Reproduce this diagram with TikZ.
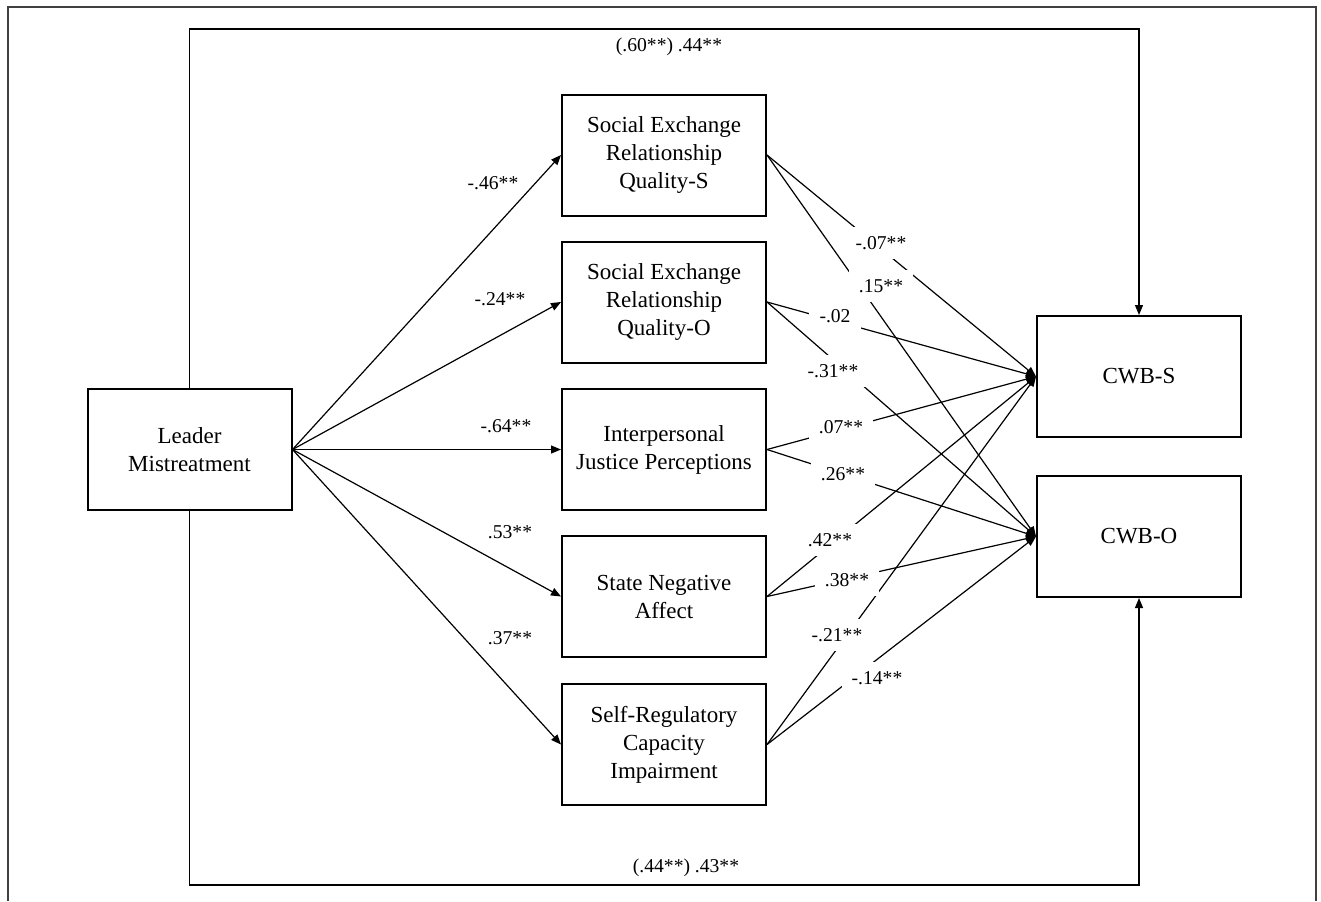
\documentclass[tikz,border=0pt]{standalone}
\usepackage{fontspec}
\setmainfont{Liberation Serif}
\usetikzlibrary{arrows.meta}
\begin{document}
\begin{tikzpicture}[x=0.5pt,y=-0.5pt,
  box/.style={draw, line width=1pt, minimum width=102pt, minimum height=60.5pt,
    inner sep=0pt, align=center, font=\fontsize{11.5}{14}\selectfont},
  tip/.style={-{Triangle[length=5pt,width=4pt]}},
  link/.style={line width=0.6pt, tip},
  coef/.style={font=\fontsize{9.8}{12}\selectfont, inner sep=1pt},
  gapcoef/.style={coef, fill=white, inner xsep=5pt, inner ysep=4.5pt}]
\useasboundingbox (0,0) rectangle (1321,901);

% outer frame
\draw[line width=1.2pt, black!75] (8,901) -- (8,7) -- (1316,7) -- (1316,901);

% variables
\node[box] (lm)   at (189.5,449.5) {Leader\\Mistreatment};
\node[box] (sers) at (664,155)   {Social Exchange\\Relationship\\Quality-S};
\node[box] (sero) at (664,302)   {Social Exchange\\Relationship\\Quality-O};
\node[box] (ijp)  at (664,449.5) {Interpersonal\\Justice Perceptions};
\node[box] (sna)  at (664,596.5) {State Negative\\Affect};
\node[box] (src)  at (664,744.5) {Self-Regulatory\\Capacity\\Impairment};
\node[box] (cwbs) at (1139,376.5) {CWB-S};
\node[box] (cwbo) at (1139,536.5) {CWB-O};

% direct effects around the model
\coordinate (topy) at (0,29);
\coordinate (boty) at (0,885);
\draw[link] (lm.north) -- (lm.north |- topy) -- (cwbs.north |- topy) -- (cwbs.north);
\draw[link] (lm.south) -- (lm.south |- boty) -- (cwbo.south |- boty) -- (cwbo.south);

% leader mistreatment to mediators
\foreach \m in {sers,sero,ijp,sna,src}
  \draw[link] (lm.east) -- (\m.west);

% mediators to outcomes
\foreach \m in {sers,sero,ijp,sna,src}{
  \draw[link] (\m.east) -- (cwbs.west);
  \draw[link] (\m.east) -- (cwbo.west);
}

% path coefficients
\node[coef] (ctop) at (669,47)  {(.60**) .44**};
\node[coef] (cbot) at (686,868) {(.44**) .43**};

\node[coef] (a1) at (493,183) {-.46**};
\node[coef] (a2) at (500,299) {-.24**};
\node[coef] (a3) at (506,426) {-.64**};
\node[coef] (a4) at (510,532) {.53**};
\node[coef] (a5) at (510,638) {.37**};

\node[gapcoef] (b1)  at (881,243) {-.07**};
\node[gapcoef] (b2)  at (881,286) {.15**};
\node[gapcoef] (b3)  at (835,316) {-.02};
\node[gapcoef] (b4)  at (833,371) {-.31**};
\node[gapcoef] (b5)  at (841,427) {.07**};
\node[gapcoef] (b6)  at (843,474) {.26**};
\node[gapcoef] (b7)  at (830,540) {.42**};
\node[gapcoef] (b8)  at (847,580) {.38**};
\node[gapcoef] (b9)  at (837,635) {-.21**};
\node[gapcoef] (b10) at (877,678) {-.14**};
\end{tikzpicture}
\end{document}
